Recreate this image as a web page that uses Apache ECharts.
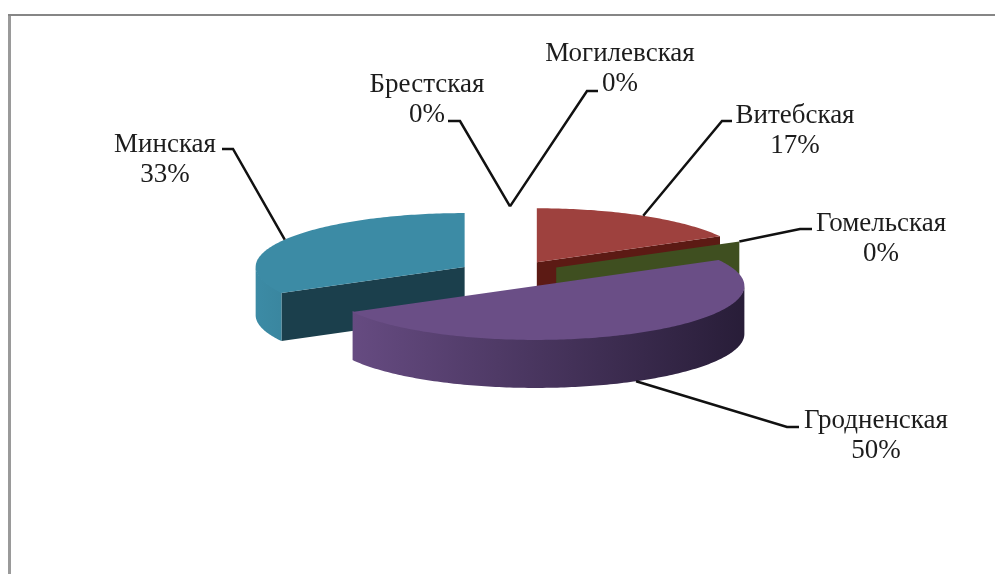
<!DOCTYPE html>
<html>
<head>
<meta charset="utf-8">
<style>html,body{margin:0;padding:0;background:#fff}#c{width:995px;height:574px}</style>
<script src="https://cdn.jsdelivr.net/npm/echarts@6/dist/echarts.min.js"></script>
</head>
<body>
<div id="c"></div>
<script>
// Data
var categories = ['Брестская', 'Витебская', 'Гомельская', 'Гродненская', 'Минская', 'Могилевская'];
var shares = [0, 17, 0, 50, 33, 0];

// Styles
var topColors  = ['#4a7ebb', '#9e413e', '#7f9a48', '#6a4e86', '#3c8ba5', '#d9853b'];
var sideColors = ['#25405e', '#5c1a14', '#3f4f20', '#35274a', '#1b3f4c', '#6c421d'];
var wallDark   = ['#25405e', '#4f211f', '#3f4f20', '#281d38', '#1b3f4c', '#6c421d'];

// Label layout: label centre, leader start and knee
var labelCentres = [[427, 100], [795, 131], [881, 239], [876, 436], [165, 160], [620, 69]];
var leaderStarts = [[448, 121], [732, 121], [812, 229], [799, 427], [222, 149], [598, 91]];
var leaderKnees  = [[460, 121], [722, 121], [800, 229], [787, 427], [233, 149], [587, 91]];

// Projection of the tilted pie
var CX = 510, CY = 274, RX = 209, RY = 54, DEPTH = 48, EXPLODE = 52.7;
var total = shares.reduce(function (a, b) { return a + b; }, 0);
var RAD = Math.PI / 180;

function px(c, deg) { return [c[0] + RX * Math.sin(deg * RAD), c[1] - RY * Math.cos(deg * RAD)]; }
function down(p) { return [p[0], p[1] + DEPTH]; }

function renderItem(params, api) {
  var i = params.dataIndex;
  var before = 0;
  for (var k = 0; k < i; k++) before += shares[k];
  var a0 = before / total * 360;
  var a1 = a0 + api.value(0) / total * 360;
  var mid = (a0 + a1) / 2;
  var c = [CX + EXPLODE * Math.sin(mid * RAD), CY - EXPLODE * (RY / RX) * Math.cos(mid * RAD)];
  var depthOrder = 300 + Math.round(-Math.cos(mid * RAD) * 100);
  var children = [];

  function face(deg) {
    var o = px(c, deg);
    children.push({
      type: 'polygon', z2: depthOrder,
      shape: { points: [c, o, down(o), down(c)] },
      style: { fill: sideColors[i] }
    });
  }
  if (Math.sin(a0 * RAD) < -1e-6) face(a0);
  if (Math.sin(a1 * RAD) > 1e-6) face(a1);

  // Outer wall (front half only); its upper edge tucks under the top surface
  var w0 = Math.max(a0, 90), w1 = Math.min(a1, 270);
  if (w1 > w0) {
    var upper = [], lower = [];
    for (var d = w0; d <= w1 + 1e-6; d += 1) {
      var p = px(c, Math.min(d, w1));
      upper.push([p[0], p[1] - 1]);
      lower.unshift(down(p));
    }
    children.push({
      type: 'polygon', z2: depthOrder + 1,
      shape: { points: upper.concat(lower) },
      style: {
        fill: new echarts.graphic.LinearGradient(c[0] - RX, 0, c[0] + RX, 0, [
          { offset: 0, color: topColors[i] },
          { offset: 1, color: wallDark[i] }
        ], true)
      }
    });
  }

  // Top surface
  if (a1 > a0) {
    var pts = [c];
    for (var t = a0; t <= a1 + 1e-6; t += 1) pts.push(px(c, Math.min(t, a1)));
    pts.push(px(c, a1));
    children.push({
      type: 'polygon', z2: depthOrder + 2,
      shape: { points: pts },
      style: { fill: topColors[i] }
    });
  }

  // Leader line
  var anchor = px(c, mid);
  if (Math.cos(mid * RAD) < 0) anchor = down(anchor);
  children.push({
    type: 'polyline', z2: 900,
    shape: { points: [leaderStarts[i], leaderKnees[i], anchor] },
    style: { fill: null, stroke: '#111', lineWidth: 2.5 }
  });

  // Label
  children.push({
    type: 'text', z2: 910,
    x: labelCentres[i][0], y: labelCentres[i][1],
    style: {
      text: categories[i] + '\n' + api.value(0) + '%',
      fill: '#1c1c1c',
      font: '27px "Liberation Serif"',
      lineHeight: 30,
      align: 'center',
      verticalAlign: 'middle'
    }
  });

  return { type: 'group', children: children };
}

var chart = echarts.init(document.getElementById('c'), null, { renderer: 'canvas' });
chart.setOption({
  animation: false,
  backgroundColor: '#ffffff',
  graphic: [
    { type: 'rect', silent: true, shape: { x: 8, y: 14, width: 3, height: 560 }, style: { fill: '#9a9a9a' } },
    { type: 'rect', silent: true, shape: { x: 8, y: 14, width: 987, height: 2 }, style: { fill: '#868686' } }
  ],
  series: [{
    type: 'custom',
    coordinateSystem: 'none',
    silent: true,
    renderItem: renderItem,
    data: categories.map(function (name, i) { return { name: name, value: shares[i] }; })
  }]
});
</script>
</body>
</html>
